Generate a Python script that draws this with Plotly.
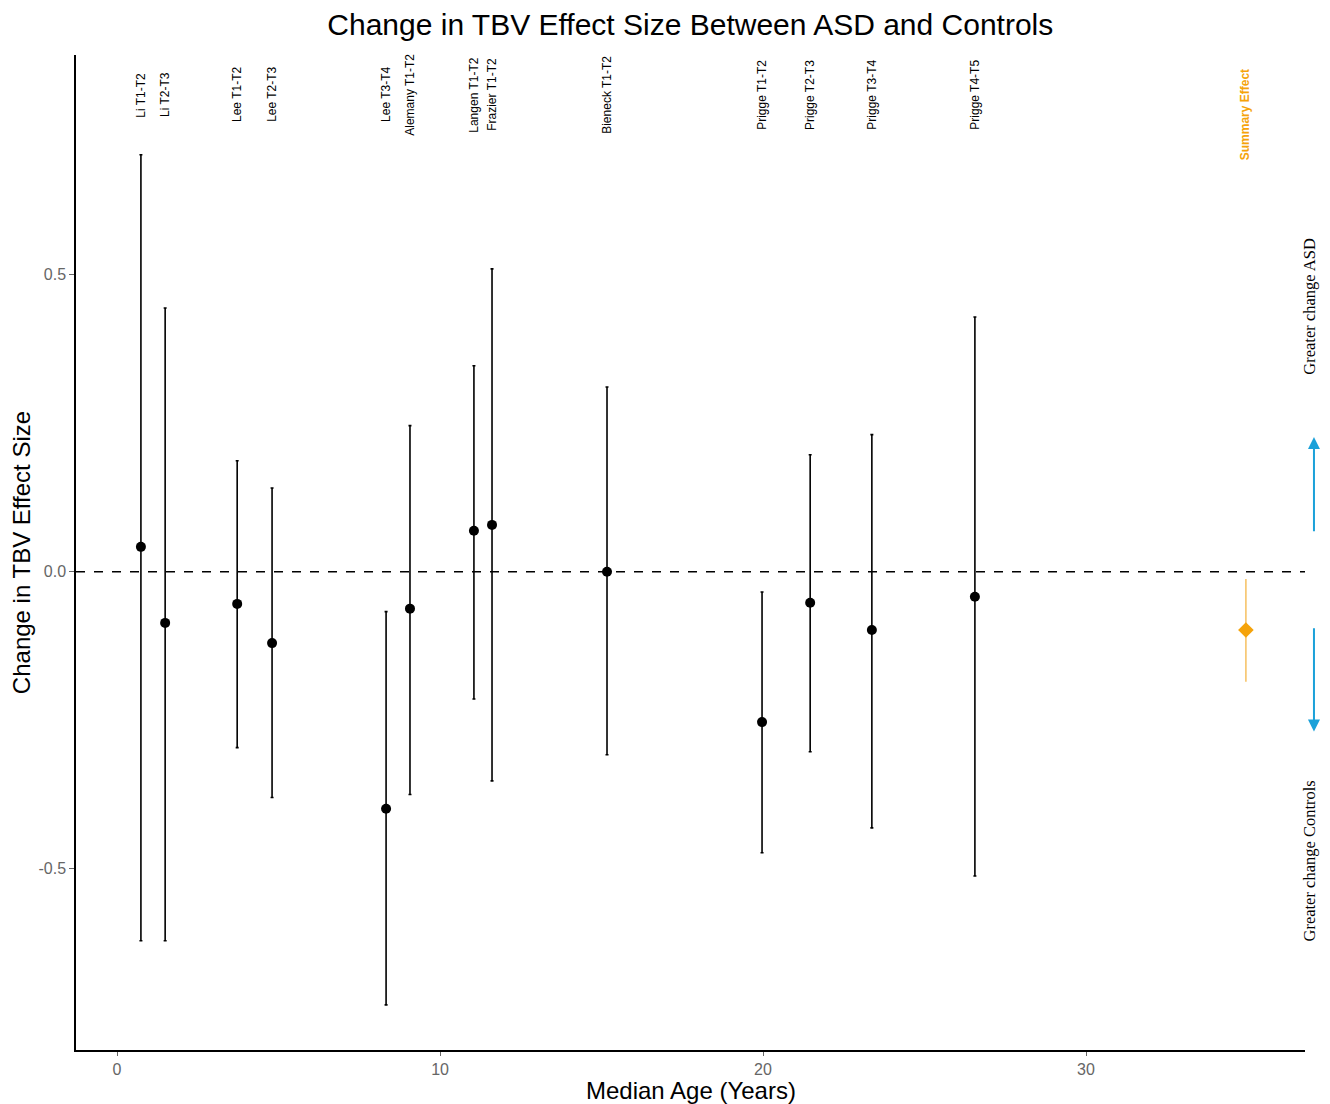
import plotly.graph_objects as go

studies = ["Li T1-T2", "Li T2-T3", "Lee T1-T2", "Lee T2-T3", "Lee T3-T4", "Alemany T1-T2",
           "Langen T1-T2", "Frazier T1-T2", "Bieneck T1-T2", "Prigge T1-T2", "Prigge T2-T3",
           "Prigge T3-T4", "Prigge T4-T5"]
ages = [0.74, 1.49, 3.72, 4.80, 8.33, 9.07, 11.05, 11.61, 15.17, 19.97, 21.46, 23.37, 26.56]
effects = [0.042, -0.086, -0.054, -0.120, -0.399, -0.062, 0.069, 0.079, 0.000, -0.253, -0.052, -0.098, -0.042]
ci_upper = [0.702, 0.444, 0.187, 0.141, -0.067, 0.246, 0.347, 0.510, 0.311, -0.034, 0.197, 0.231, 0.429]
ci_lower = [-0.621, -0.621, -0.296, -0.380, -0.729, -0.375, -0.214, -0.352, -0.308, -0.473, -0.303, -0.431, -0.512]

summary_label = "Summary Effect"
summary_age = 34.95
summary_effect = -0.098
summary_upper = -0.012
summary_lower = -0.185

label_y = 0.803
summary_label_y = 0.77

fig = go.Figure()

fig.add_trace(go.Scatter(
    x=ages, y=effects, mode="markers",
    marker=dict(color="black", size=10),
    error_y=dict(type="data", symmetric=False,
                 array=[u - e for u, e in zip(ci_upper, effects)],
                 arrayminus=[e - l for e, l in zip(effects, ci_lower)],
                 color="black", thickness=1.6, width=1.5),
    showlegend=False, hoverinfo="skip"))

fig.add_trace(go.Scatter(
    x=[summary_age], y=[summary_effect], mode="markers",
    marker=dict(color="#F5A30A", size=12, symbol="diamond"),
    error_y=dict(type="data", symmetric=False,
                 array=[summary_upper - summary_effect],
                 arrayminus=[summary_effect - summary_lower],
                 color="#F7C46A", thickness=1.6, width=0),
    showlegend=False, hoverinfo="skip"))

fig.add_hline(y=0, line=dict(color="black", width=1.5, dash="dash"))

for name, a in zip(studies, ages):
    fig.add_annotation(x=a, y=label_y, text=name, textangle=-90, showarrow=False,
                       font=dict(family="Arial", size=12, color="black"),
                       xanchor="center", yanchor="middle")
fig.add_annotation(x=summary_age, y=summary_label_y, text="<b>" + summary_label + "</b>",
                   textangle=-90, showarrow=False,
                   font=dict(family="Arial", size=12, color="#F5A30A"),
                   xanchor="center", yanchor="middle")

# Side annotations and arrows
fig.add_annotation(xref="paper", yref="y", x=1.0036, y=0.447, text="Greater change ASD",
                   textangle=-90, showarrow=False, xanchor="center", yanchor="middle",
                   font=dict(family="Liberation Serif", size=16.5, color="black"))
fig.add_annotation(xref="paper", yref="y", x=1.0036, y=-0.487, text="Greater change Controls",
                   textangle=-90, showarrow=False, xanchor="center", yanchor="middle",
                   font=dict(family="Liberation Serif", size=16.5, color="black"))
fig.add_annotation(xref="paper", yref="y", axref="pixel", ayref="y",
                   x=1.0073, y=0.227, ax=0, ay=0.0657, text="", showarrow=True,
                   arrowhead=2, arrowsize=1.2, arrowwidth=2, arrowcolor="#1BA1D9")
fig.add_annotation(xref="paper", yref="y", axref="pixel", ayref="y",
                   x=1.0073, y=-0.269, ax=0, ay=-0.0926, text="", showarrow=True,
                   arrowhead=2, arrowsize=1.2, arrowwidth=2, arrowcolor="#1BA1D9")

# x-axis title placed as annotation for precise position
fig.add_annotation(xref="paper", yref="paper", x=0.5, y=0, yshift=-40,
                   text="Median Age (Years)", showarrow=False,
                   xanchor="center", yanchor="middle",
                   font=dict(family="Arial", size=24, color="black"))

fig.update_layout(
    width=1330, height=1104,
    margin=dict(l=68, r=33, t=47, b=62, autoexpand=False),
    plot_bgcolor="white", paper_bgcolor="white",
    title=dict(text="Change in TBV Effect Size Between ASD and Controls",
               x=0.513, xanchor="center", y=0.985, yanchor="middle",
               font=dict(family="Arial", size=30, color="black")),
    xaxis=dict(range=[-1.27, 36.78], tickvals=[0, 10, 20, 30], showgrid=False, zeroline=False,
               showline=True, linecolor="black", linewidth=1.5, ticks="outside", automargin=False,
               ticklen=4, tickcolor="#666", tickfont=dict(family="Arial", size=16, color="#666")),
    yaxis=dict(range=[-0.805, 0.87], tickvals=[-0.5, 0, 0.5], ticktext=["-0.5", "0.0", "0.5"],
               showgrid=False, zeroline=False, automargin=False,
               showline=True, linecolor="black", linewidth=1.5, ticks="outside",
               ticklen=5, tickcolor="#666", tickfont=dict(family="Arial", size=16, color="#666"),
               title=dict(text="Change in TBV Effect Size", font=dict(family="Arial", size=24, color="black"))),
)

fig.write_html("out.html")
